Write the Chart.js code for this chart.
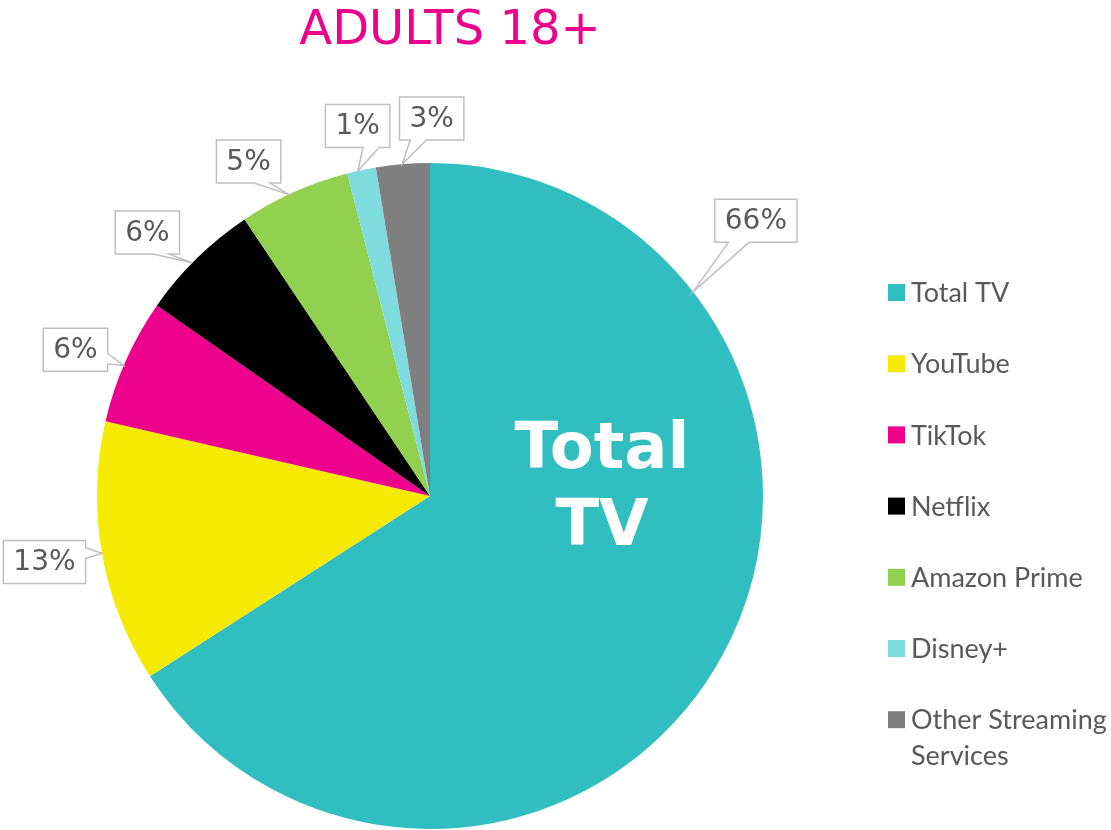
<!DOCTYPE html>
<html lang="en">
<head>
  <meta charset="UTF-8">
  <title>Adults 18+</title>
  <script src="https://cdn.jsdelivr.net/npm/chart.js@4.4.1/dist/chart.umd.min.js"></script>
  <style>
    body { margin: 0; background: #fff; }
    .wrap { width: 1111px; height: 830px; position: relative; }
  </style>
</head>
<body>
  <div class="wrap"><canvas id="pieChart"></canvas></div>

  <script>
    // data
    const categories = ['Total TV', 'YouTube', 'TikTok', 'Netflix', 'Amazon Prime', 'Disney+', 'Other Streaming Services'];
    const shares = [65.9, 12.7, 6.1, 5.9, 5.4, 1.4, 2.6];
    const colors = ['#31BEC1', '#F5EA00', '#EC008C', '#000000', '#92D050', '#7FDCDE', '#7F7F7F'];
    const chartTitle = 'ADULTS 18+';
    const bigLabel = ['Total', 'TV'];

    // where each callout points along its slice (0..1) and where its box sits from the tip
    const tipFrac = [0.22, 0.5, 0.46, 0.45, 0.45, 0.38, 0.49];
    const boxOffset = [[62.8, -71], [-57.5, 8.8], [-48.2, -15.9], [-45, -30.1], [-40.2, -32.9], [-0.4, -44.9], [29.4, -45.7]];

    const textGrey = '#595959';

    function drawCallout(ctx, cx, cy, w, h, tx, ty) {
      const l = cx - w / 2, t = cy - h / 2, r = cx + w / 2, b = cy + h / 2;
      const dx = (tx - cx) / w, dy = (ty - cy) / h;
      ctx.beginPath();
      ctx.moveTo(l, t);
      if (Math.abs(dy) >= Math.abs(dx) && dy < 0) {
        const a = dx < 0 ? l + w * 2 / 12 : l + w * 7 / 12;
        ctx.lineTo(a, t); ctx.lineTo(tx, ty); ctx.lineTo(a + w * 3 / 12, t);
      }
      ctx.lineTo(r, t);
      if (Math.abs(dx) > Math.abs(dy) && dx > 0) {
        const a = dy < 0 ? t + h * 2 / 12 : t + h * 7 / 12;
        ctx.lineTo(r, a); ctx.lineTo(tx, ty); ctx.lineTo(r, a + h * 3 / 12);
      }
      ctx.lineTo(r, b);
      if (Math.abs(dy) >= Math.abs(dx) && dy > 0) {
        const a = dx < 0 ? l + w * 5 / 12 : l + w * 10 / 12;
        ctx.lineTo(a, b); ctx.lineTo(tx, ty); ctx.lineTo(a - w * 3 / 12, b);
      }
      ctx.lineTo(l, b);
      if (Math.abs(dx) > Math.abs(dy) && dx < 0) {
        const a = dy < 0 ? t + h * 5 / 12 : t + h * 10 / 12;
        ctx.lineTo(l, a); ctx.lineTo(tx, ty); ctx.lineTo(l, a - h * 3 / 12);
      }
      ctx.closePath();
      ctx.fillStyle = '#fff';
      ctx.fill();
      ctx.lineWidth = 1.5;
      ctx.strokeStyle = '#BFBFBF';
      ctx.stroke();
    }

    const extras = {
      id: 'extras',
      afterDatasetsDraw(chart) {
        const ctx = chart.ctx;
        const arcs = chart.getDatasetMeta(0).data;
        ctx.save();

        // title
        ctx.fillStyle = '#EC008C';
        ctx.font = '48px "DejaVu Sans"';
        ctx.textAlign = 'center';
        ctx.textBaseline = 'alphabetic';
        ctx.fillText(chartTitle, 450, 44);

        // big label inside the Total TV slice
        ctx.fillStyle = '#fff';
        ctx.font = 'bold 64px "DejaVu Sans"';
        ctx.fillText(bigLabel[0], 602, 468);
        ctx.fillText(bigLabel[1], 602, 545);

        // percentage callouts
        ctx.font = '28px "DejaVu Sans"';
        arcs.forEach((arc, i) => {
          const p = arc.getProps(['x', 'y', 'startAngle', 'endAngle', 'outerRadius']);
          const a = p.startAngle + (p.endAngle - p.startAngle) * tipFrac[i];
          const tx = p.x + Math.cos(a) * p.outerRadius;
          const ty = p.y + Math.sin(a) * p.outerRadius;
          const txt = Math.round(shares[i]) + '%';
          const w = ctx.measureText(txt).width + 20;
          const h = 43;
          const cx = tx + boxOffset[i][0], cy = ty + boxOffset[i][1];
          drawCallout(ctx, cx, cy, w, h, tx, ty);
          ctx.fillStyle = textGrey;
          ctx.textBaseline = 'middle';
          ctx.fillText(txt, cx, cy + 1);
        });

        // legend
        ctx.textAlign = 'left';
        ctx.font = '27px Lato';
        categories.forEach((name, i) => {
          const y = 292.5 + i * 71.2;
          ctx.fillStyle = colors[i];
          ctx.fillRect(888, y - 8.5, 17, 17);
          ctx.fillStyle = textGrey;
          // wrap long names
          const words = name.split(' ');
          const lines = [];
          let line = '';
          words.forEach(wd => {
            const test = line ? line + ' ' + wd : wd;
            if (ctx.measureText(test).width > 200 && line) { lines.push(line); line = wd; }
            else line = test;
          });
          lines.push(line);
          lines.forEach((ln, k) => ctx.fillText(ln, 911, y + 1 + k * 36));
        });
        ctx.restore();
      }
    };

    new Chart(document.getElementById('pieChart'), {
      type: 'pie',
      data: {
        labels: categories,
        datasets: [{
          data: shares,
          backgroundColor: colors,
          borderWidth: 0
        }]
      },
      options: {
        responsive: true,
        maintainAspectRatio: false,
        animation: false,
        layout: { padding: { left: 97, top: 163, right: 348, bottom: 1 } },
        plugins: {
          legend: { display: false },
          tooltip: { enabled: false }
        }
      },
      plugins: [extras]
    });
  </script>
</body>
</html>
